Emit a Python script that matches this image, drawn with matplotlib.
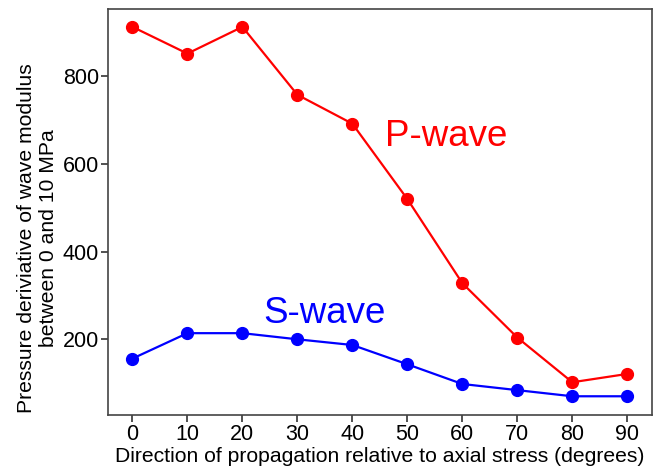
import matplotlib
matplotlib.use("Agg")
import matplotlib.pyplot as plt

angles = [0, 10, 20, 30, 40, 50, 60, 70, 80, 90]
p_wave = [913, 852, 913, 758, 692, 520, 328, 204, 102, 121]
s_wave = [156, 214, 214, 200, 187, 143, 98, 84, 70, 70]
y_ticks = [200, 400, 600, 800]

plt.rcParams['font.family'] = ['Liberation Sans', 'DejaVu Sans']

fig = plt.figure(figsize=(6.64, 4.68), dpi=100)
ax = fig.add_axes([0.163, 0.113, 0.819, 0.868])

ax.plot(angles, p_wave, color='#ff0000', lw=1.6, marker='o', ms=8.5)
ax.plot(angles, s_wave, color='#0000ff', lw=1.6, marker='o', ms=8.5)

ax.text(57.1, 662, 'P-wave', color='#ff0000', fontsize=26.5, ha='center', va='center')
ax.text(35, 258, 'S-wave', color='#0000ff', fontsize=26.5, ha='center', va='center')

ax.set_xlim(-4.4, 94.5)
ax.set_ylim(27, 954)
ax.set_xticks(angles)
ax.set_yticks(y_ticks)
ax.tick_params(labelsize=15.5, length=5, width=1.2, color='#333333', pad=1.5)
for s in ax.spines.values():
    s.set_color('#444444')
    s.set_linewidth(1.2)

ax.set_xlabel('Direction of propagation relative to axial stress (degrees)', fontsize=15.2, labelpad=1)
fig.text(37.5 / 664, 1 - 238 / 468, 'Pressure deriviative of wave modulus\nbetween 0 and 10 MPa',
         fontsize=15.2, rotation=90, ha='center', va='center', multialignment='center')

fig.savefig('out.png', dpi=100)
